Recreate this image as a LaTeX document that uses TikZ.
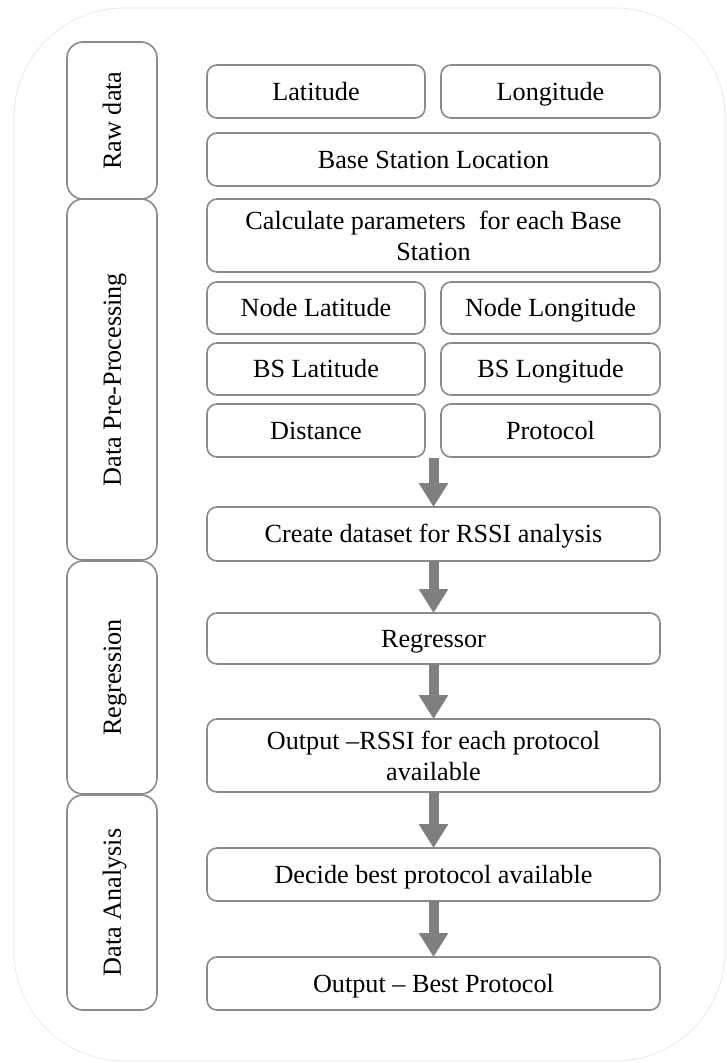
\documentclass[tikz,border=0pt]{standalone}
\usepackage{fontspec}
\setmainfont{Liberation Serif}
\usetikzlibrary{arrows.meta}
\definecolor{boxline}{HTML}{8A8A8A}
\definecolor{flowgray}{HTML}{7F7F7F}
\definecolor{frameline}{HTML}{E6E6E6}
\tikzset{
  x=1pt, y=-1pt,
  boxbase/.style={draw=boxline, line width=1.6pt, rounded corners=10pt, fill=white,
    inner sep=0pt, outer sep=0pt, align=center,
    font=\fontsize{26.2}{31}\selectfont},
  box/.style={boxbase, text height=17.5pt, text depth=0pt},
  boxtwo/.style={boxbase},
  stage/.style={boxbase, rounded corners=16pt},
  flow/.style={draw=flowgray, line width=10pt,
    -{Triangle[width=28pt,length=24pt]}}
}
% place a box given its corners (x1,y1) and (x2,y2) in picture units
\newcommand{\placebox}[7]{%
  \node[#1, minimum width={#5-#3}, minimum height={#6-#4}] (#2)
    at ({(#3+#5)/2},{(#4+#6)/2}) {#7};}
% vertical stage label, centred on its cap height
\newcommand{\stagelabel}[1]{\rotatebox{90}{\raisebox{0pt}[17.5pt][0pt]{#1}}}
\begin{document}
\begin{tikzpicture}
\useasboundingbox (0,0) rectangle (726,1063);
% outer frame
\draw[frameline, line width=0.7pt, rounded corners=110pt] (14,8) rectangle (725,1061);

% stage column
\placebox{stage}{raw}{67}{42}{157}{199}{\stagelabel{Raw data}}
\placebox{stage}{pre}{67}{199}{157}{560}{\stagelabel{Data Pre-Processing}}
\placebox{stage}{reg}{67}{561}{157}{794}{\stagelabel{Regression}}
\placebox{stage}{ana}{67}{795}{157}{1010}{\stagelabel{Data Analysis}}

% raw data
\placebox{box}{lat}{207}{65}{425}{118}{Latitude}
\placebox{box}{lon}{441}{65}{660}{118}{Longitude}
\placebox{box}{bsl}{207}{133}{660}{186}{Base Station Location}

% pre-processing
\placebox{boxtwo}{calc}{207}{199}{660}{272}{Calculate parameters\ \ for each Base\\Station}
\placebox{box}{nlat}{207}{282}{425}{334}{Node Latitude}
\placebox{box}{nlon}{441}{282}{660}{334}{Node Longitude}
\placebox{box}{blat}{207}{343}{425}{395}{BS Latitude}
\placebox{box}{blon}{441}{343}{660}{395}{BS Longitude}
\placebox{box}{dist}{207}{404}{425}{457}{Distance}
\placebox{box}{prot}{441}{404}{660}{457}{Protocol}
\placebox{box}{data}{207}{507}{660}{561}{Create dataset for RSSI analysis}

% regression
\placebox{box}{regr}{207}{613}{660}{664}{Regressor}
\placebox{boxtwo}{rssi}{207}{719}{660}{792}{Output --RSSI for each protocol\\available}

% analysis
\placebox{box}{dec}{207}{848}{660}{901}{Decide best protocol available}
\placebox{box}{best}{207}{957}{660}{1010}{Output -- Best Protocol}

% flow arrows
\coordinate (split) at (433.5,458);
\draw[flow] (split) -- (data.north);
\draw[flow] (data.south) -- (regr.north);
\draw[flow] (regr.south) -- (rssi.north);
\draw[flow] (rssi.south) -- (dec.north);
\draw[flow] (dec.south) -- (best.north);
\end{tikzpicture}
\end{document}
